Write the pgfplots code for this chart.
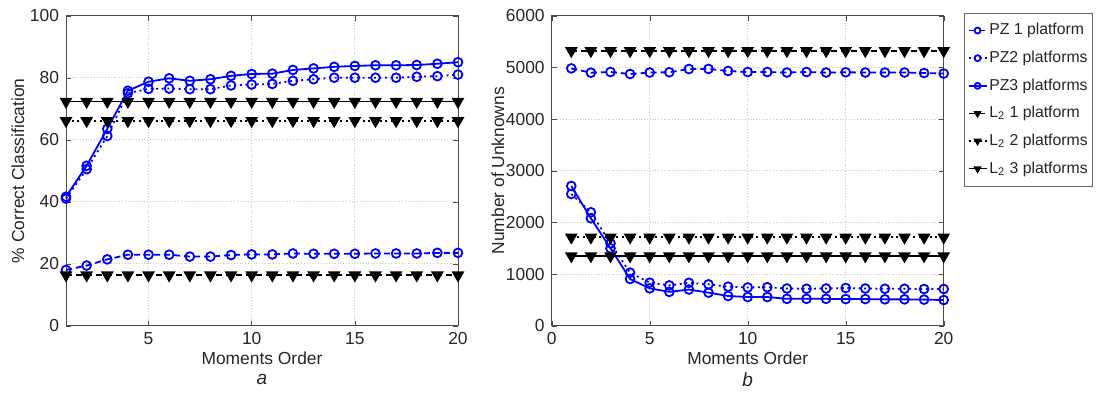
\documentclass[border=0pt]{standalone}
\usepackage{pgfplots}
\pgfplotsset{compat=1.18}
\usepackage{fontspec}
\setmainfont{Liberation Sans}
\definecolor{mblue}{RGB}{0,0,255}
\pgfplotsset{
  panel/.style={
    scale only axis, width=196pt, height=155pt,
    anchor=south west, clip=false,
    tick align=inside, major tick length=2.5pt,
    grid=major, grid style={densely dotted, gray!45},
    axis line style={black!70}, tick style={black!70},
    font=\fontsize{8.7}{10}\selectfont,
    /pgf/number format/assume math mode=true,
    ticklabel style={font=\fontsize{8.7}{10}\selectfont, black!85},
    label style={font=\fontsize{8.7}{10}\selectfont, black!85},
  },
  pz1/.style={mblue, line width=0.9pt, dash pattern=on 3pt off 2pt, mark=o, mark size=2.2pt, mark options={solid}},
  pz2/.style={mblue, line width=0.9pt, dash pattern=on 1pt off 1.8pt, mark=o, mark size=2.2pt, mark options={solid}},
  pz3/.style={mblue, line width=0.9pt, solid, mark=o, mark size=2.2pt, mark options={solid}},
  l21/.style={black, line width=0.9pt, dash pattern=on 3pt off 2pt, mark=triangle*, mark size=2.8pt, mark options={solid, rotate=180, fill=black}},
  l22/.style={black, line width=0.9pt, dash pattern=on 1pt off 1.8pt, mark=triangle*, mark size=2.8pt, mark options={solid, rotate=180, fill=black}},
  l23/.style={black, line width=0.9pt, solid, mark=triangle*, mark size=2.8pt, mark options={solid, rotate=180, fill=black}},
}
\begin{document}
\begin{tikzpicture}
\useasboundingbox (0,0) rectangle (552pt,196pt);
% ---------------- panel a ----------------
\begin{axis}[panel, at={(33pt,33.15pt)},
  xmin=1, xmax=20, xtick={5,10,15,20},
  ymin=0, ymax=100, ytick={0,20,...,100},
  xlabel={Moments Order},
  xlabel style={at={(axis description cs:0.5,-0.104)}, anchor=center},
  ylabel={\% Correct Classification},
  ylabel style={at={(axis description cs:-0.1224,0.5)}, anchor=center},
]
\addplot[pz1] coordinates {(1,18) (2,19.4) (3,21.4) (4,22.9) (5,22.9) (6,22.9) (7,22.3) (8,22.3) (9,22.8) (10,23) (11,23) (12,23.3) (13,23.2) (14,23.2) (15,23.2) (16,23.3) (17,23.3) (18,23.3) (19,23.5) (20,23.5)};
\addplot[pz2] coordinates {(1,41) (2,50.5) (3,61.2) (4,75) (5,76.4) (6,76.5) (7,76.3) (8,76.3) (9,77.5) (10,77.8) (11,78) (12,79) (13,79.5) (14,80) (15,80) (16,80) (17,80) (18,80.3) (19,80.5) (20,81)};
\addplot[pz3] coordinates {(1,41.6) (2,51.6) (3,63.5) (4,75.8) (5,78.7) (6,79.8) (7,79) (8,79.5) (9,80.6) (10,81.2) (11,81.3) (12,82.5) (13,83) (14,83.5) (15,83.8) (16,84) (17,84) (18,84.1) (19,84.5) (20,85)};
\addplot[l21] coordinates {(1,16.3) (2,16.3) (3,16.3) (4,16.3) (5,16.3) (6,16.3) (7,16.3) (8,16.3) (9,16.3) (10,16.3) (11,16.3) (12,16.3) (13,16.3) (14,16.3) (15,16.3) (16,16.3) (17,16.3) (18,16.3) (19,16.3) (20,16.3)};
\addplot[l22] coordinates {(1,66.1) (2,66.1) (3,66.1) (4,66.1) (5,66.1) (6,66.1) (7,66.1) (8,66.1) (9,66.1) (10,66.1) (11,66.1) (12,66.1) (13,66.1) (14,66.1) (15,66.1) (16,66.1) (17,66.1) (18,66.1) (19,66.1) (20,66.1)};
\addplot[l23] coordinates {(1,72.3) (2,72.3) (3,72.3) (4,72.3) (5,72.3) (6,72.3) (7,72.3) (8,72.3) (9,72.3) (10,72.3) (11,72.3) (12,72.3) (13,72.3) (14,72.3) (15,72.3) (16,72.3) (17,72.3) (18,72.3) (19,72.3) (20,72.3)};
\node[font=\fontsize{9.5}{11}\selectfont\itshape, black!85] at (axis description cs:0.5,-0.175) {a};
\end{axis}
% ---------------- panel b ----------------
\begin{axis}[panel, at={(275.85pt,33.15pt)},
  xmin=0, xmax=20, xtick={0,5,...,20},
  ymin=0, ymax=6000, ytick={0,1000,...,6000},
  scaled y ticks=false,
  yticklabel style={/pgf/number format/1000 sep={}},
  xlabel={Moments Order},
  xlabel style={at={(axis description cs:0.5,-0.104)}, anchor=center},
  ylabel={Number of Unknowns},
  ylabel style={at={(axis description cs:-0.137,0.5)}, anchor=center},
  legend style={at={(1.053,1.009)}, anchor=north west, draw=black!60,
    font=\fontsize{7.9}{9.5}\selectfont, fill=white,
    row sep=2.6pt, inner xsep=1.5pt, inner ysep=3pt,
    nodes={inner xsep=1pt},
    cells={anchor=west, text=black!85}},
  legend cell align=left,
  legend image code/.code={\draw[#1, line width=0.7pt] (0pt,0pt) -- (4.5pt,0pt) -- (9pt,0pt);
    \draw[#1, only marks, mark size=1.5pt] plot coordinates {(4.5pt,0pt)};},
]
\addplot[pz1] coordinates {(1,4980) (2,4897) (3,4910) (4,4871) (5,4900) (6,4905) (7,4968) (8,4970) (9,4930) (10,4910) (11,4910) (12,4900) (13,4910) (14,4900) (15,4905) (16,4900) (17,4900) (18,4900) (19,4890) (20,4880)};
\addplot[pz2] coordinates {(1,2550) (2,2195) (3,1595) (4,1026) (5,832) (6,780) (7,830) (8,800) (9,755) (10,740) (11,745) (12,720) (13,715) (14,720) (15,730) (16,720) (17,715) (18,715) (19,710) (20,710)};
\addplot[pz3] coordinates {(1,2704) (2,2079) (3,1498) (4,904) (5,723) (6,655) (7,700) (8,640) (9,575) (10,555) (11,555) (12,520) (13,520) (14,520) (15,515) (16,515) (17,510) (18,510) (19,505) (20,497)};
\addplot[l21] coordinates {(1,5320) (2,5320) (3,5320) (4,5320) (5,5320) (6,5320) (7,5320) (8,5320) (9,5320) (10,5320) (11,5320) (12,5320) (13,5320) (14,5320) (15,5320) (16,5320) (17,5320) (18,5320) (19,5320) (20,5320)};
\addplot[l22] coordinates {(1,1711) (2,1711) (3,1711) (4,1711) (5,1711) (6,1711) (7,1711) (8,1711) (9,1711) (10,1711) (11,1711) (12,1711) (13,1711) (14,1711) (15,1711) (16,1711) (17,1711) (18,1711) (19,1711) (20,1711)};
\addplot[l23] coordinates {(1,1349) (2,1349) (3,1349) (4,1349) (5,1349) (6,1349) (7,1349) (8,1349) (9,1349) (10,1349) (11,1349) (12,1349) (13,1349) (14,1349) (15,1349) (16,1349) (17,1349) (18,1349) (19,1349) (20,1349)};
\legend{PZ 1 platform, PZ2 platforms, PZ3 platforms, L\textsubscript{2} 1 platform, L\textsubscript{2} 2 platforms, L\textsubscript{2} 3 platforms}
\node[font=\fontsize{9.5}{11}\selectfont\itshape, black!85] at (axis description cs:0.5,-0.175) {b};
\end{axis}
\end{tikzpicture}
\end{document}
